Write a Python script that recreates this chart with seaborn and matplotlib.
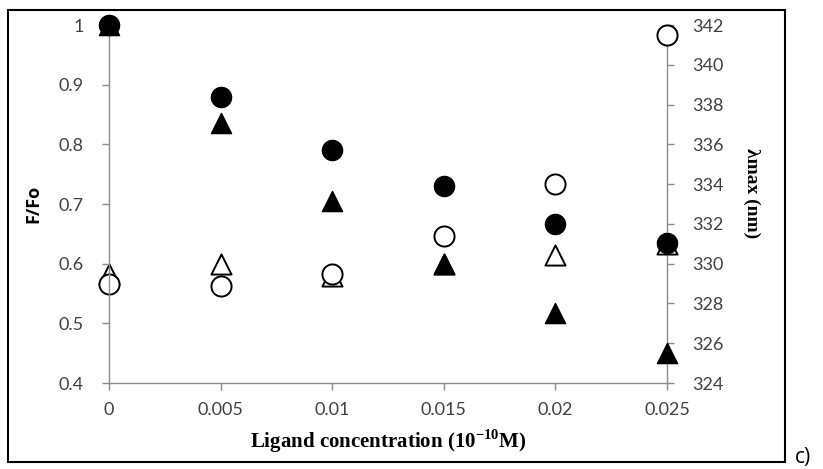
import matplotlib
matplotlib.use("Agg")
import matplotlib.pyplot as plt
import seaborn as sns
from matplotlib.patches import Rectangle

sns.set_theme(style="white")
plt.rcParams['font.family'] = ['Lato', 'DejaVu Sans']

# Data
conc = [0, 0.005, 0.01, 0.015, 0.02, 0.025]
ff_circle = [1.0, 0.88, 0.79, 0.73, 0.667, 0.635]
ff_triangle = [1.0, 0.835, 0.705, 0.60, 0.517, 0.45]
lam_circle = [329.0, 328.9, 329.5, 331.4, 334.0, 341.5]
lam_triangle = [329.5, 330.0, 329.4, 330.0, 330.45, 331.0]
xticks = [0, 0.005, 0.01, 0.015, 0.02, 0.025]
xticklabels = ["0", "0.005", "0.01", "0.015", "0.02", "0.025"]
yticks_left = [0.4, 0.5, 0.6, 0.7, 0.8, 0.9, 1.0]
yticklabels_left = ["0.4", "0.5", "0.6", "0.7", "0.8", "0.9", "1"]
yticks_right = [324, 326, 328, 330, 332, 334, 336, 338, 340, 342]

fig = plt.figure(figsize=(8.23, 4.69), dpi=100)
ax = fig.add_axes([109/823, 1-383/469, (667-109)/823, (383-25)/469])
ax2 = ax.twinx()
ax.set_zorder(ax2.get_zorder() + 1)
ax.patch.set_visible(False)

S = 210
# right-axis open markers
sns.scatterplot(x=conc, y=lam_triangle, marker='^', s=S, color='white',
                edgecolor='black', linewidth=1.4, ax=ax2, zorder=3)
sns.scatterplot(x=conc, y=lam_circle, marker='o', s=S, color='white',
                edgecolor='black', linewidth=1.4, ax=ax2, zorder=3)
# left-axis filled markers
sns.scatterplot(x=conc, y=ff_triangle, marker='^', s=S, color='black',
                edgecolor='black', linewidth=1, ax=ax, zorder=4, clip_on=False)
sns.scatterplot(x=conc, y=ff_circle, marker='o', s=S, color='black',
                edgecolor='black', linewidth=1, ax=ax, zorder=4, clip_on=False)
for c in ax2.collections:
    c.set_clip_on(False)

ax.set_xlim(0, 0.025)
ax.set_ylim(0.4, 1.0)
ax2.set_ylim(324, 342)
ax.set_xticks(xticks)
ax.set_xticklabels(xticklabels)
ax.set_yticks(yticks_left)
ax.set_yticklabels(yticklabels_left)
ax2.set_yticks(yticks_right)
ax2.set_yticklabels([str(v) for v in yticks_right])

grey = '#8c8c8c'
for a in (ax, ax2):
    a.spines['top'].set_visible(False)
ax.spines['right'].set_visible(False)
ax2.spines['left'].set_visible(False)
ax2.spines['bottom'].set_visible(False)
ax.spines['left'].set_color(grey)
ax.spines['bottom'].set_color(grey)
ax2.spines['right'].set_color(grey)
for s in ('left', 'bottom'):
    ax.spines[s].set_linewidth(1.0)
ax2.spines['right'].set_linewidth(1.0)

ax.tick_params(axis='y', direction='out', length=5, width=1, color=grey,
               labelsize=13, labelcolor='#404040', left=True, pad=13)
ax.tick_params(axis='x', direction='out', length=5, width=1, color=grey,
               labelsize=13, labelcolor='#404040', bottom=True, pad=9)
ax2.tick_params(axis='y', direction='out', length=5, width=1, color=grey,
                labelsize=13, labelcolor='#404040', right=True, pad=13)

ax.set_xlabel("Ligand concentration (10$^{\\mathregular{-10}}$M)", family='Liberation Serif',
              fontweight='bold', fontsize=15, color='black')
ax.xaxis.set_label_coords(0.5, -0.125)
ax.set_ylabel("F/Fo", fontweight='bold', fontsize=13, color='black',
              family=['Open Sans', 'DejaVu Sans'])
ax.yaxis.set_label_coords(-0.12, 0.5)
ax2.set_ylabel("λmax (nm)", family='Liberation Serif', fontweight='bold',
               fontsize=14, color='black', rotation=270, va='center')
ax2.yaxis.set_label_coords(1.152, 0.53)

fig.patches.append(Rectangle((8/823, 1-462/469), (785-8)/823, (462-10)/469,
                             transform=fig.transFigure, fill=False,
                             edgecolor='black', linewidth=1.5))
fig.text(795/823, 1-463/469, "c)", fontsize=15, color='black', ha='left', va='baseline',
         family=['Open Sans', 'DejaVu Sans'])

fig.savefig("out.png", dpi=100)
